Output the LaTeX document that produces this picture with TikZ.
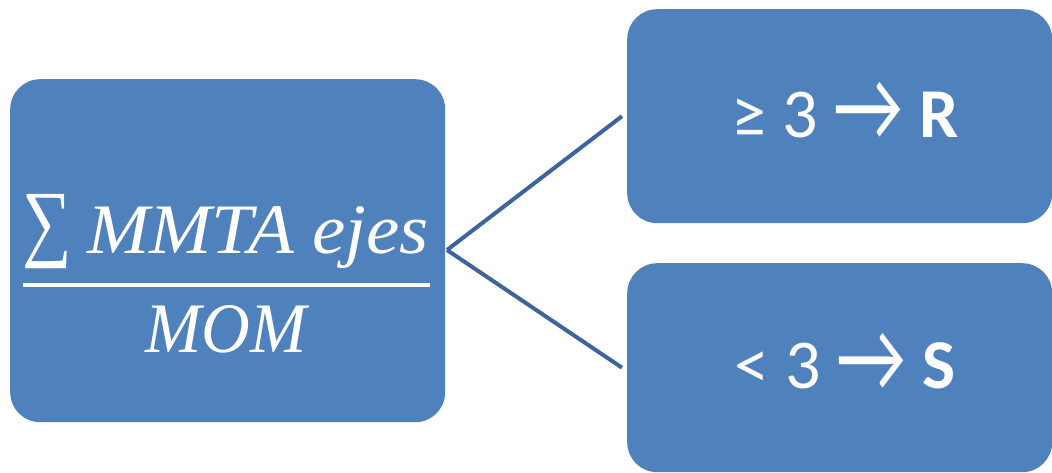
\documentclass[tikz,border=0pt]{standalone}
\usepackage{fontspec}
\setmainfont{Carlito}
\newfontfamily\mathlike{Liberation Serif}
\begin{document}
\begin{tikzpicture}[x=1pt,y=-1pt,
  boxstyle/.style={fill=boxblue, rounded corners=30pt, inner sep=0pt, anchor=north west},
  conn/.style={draw=lineblue, line width=4pt},
  lbl/.style={text=white, font=\fontsize{70}{74}\selectfont, inner sep=0pt, anchor=base},
  frac/.style={text=white, font=\mathlike\itshape\fontsize{71}{75}\selectfont, inner sep=0pt}]
\definecolor{boxblue}{HTML}{4F81BD}
\definecolor{lineblue}{HTML}{3E64A0}
\useasboundingbox (0,0) rectangle (1052,472);
\node[boxstyle, minimum width=435pt, minimum height=343pt] (L) at (10,79) {};
\node[boxstyle, minimum width=425pt, minimum height=214pt] (R1) at (627,9) {};
\node[boxstyle, minimum width=425pt, minimum height=209pt] (R2) at (627,263) {};
\draw[conn] (447,250) coordinate (J) -- ([xshift=-5pt]R1.west);
\draw[conn] (J) -- ([xshift=-5pt]R2.west);
% fraction
\node[text=white, inner sep=0pt, anchor=base west, font=\mathlike\fontsize{68}{72}\selectfont] (SUM) at (22,250) {\scalebox{1.02}[1.26]{∑}};
\node[frac, anchor=base west] (NUM) at (87,253) {\scalebox{1.055}[1]{MMTA ejes}};
\fill[white] (23,283) rectangle (430,287) coordinate (RULE);
\node[frac, anchor=base] (DEN) at (226,352) {\scalebox{0.95}[1]{MOM}};
\node[lbl] (T1) at (845,137) {≥ 3 \raisebox{-0.05em}{\scalebox{1.1}[1.45]{→}} \textbf{R}};
\node[lbl] (T2) at (845,388) {< 3 \raisebox{-0.05em}{\scalebox{1.1}[1.45]{→}} \textbf{S}};
\end{tikzpicture}
\end{document}
